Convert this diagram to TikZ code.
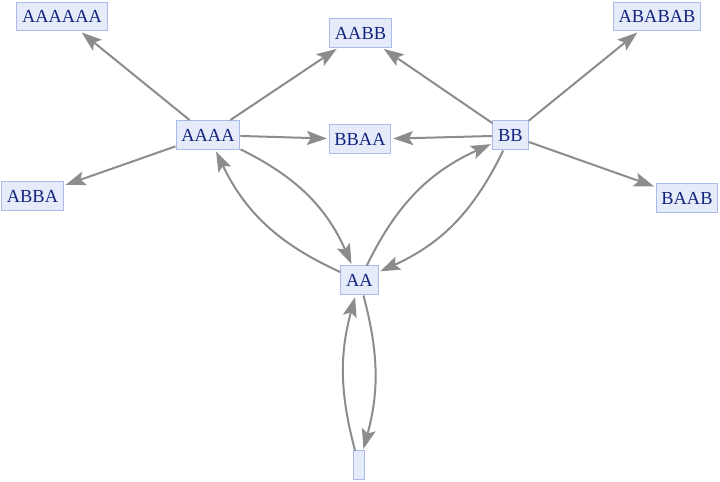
\documentclass[tikz,border=0pt]{standalone}
\usepackage{fontspec}
\setmainfont{Liberation Serif}
\definecolor{vertexfill}{RGB}{230, 235, 250}
\definecolor{vertexline}{RGB}{170, 187, 235}
\definecolor{vertextext}{RGB}{18, 36, 125}
\definecolor{edgegray}{RGB}{140, 140, 140}
\usetikzlibrary{arrows.meta}

\begin{document}
\begin{tikzpicture}[x=0.5pt, y=-0.5pt,
    vertex/.style={rectangle, draw=vertexline, fill=vertexfill, text=vertextext, line width=0.5pt,
        inner xsep=2.7pt, inner ysep=0pt, minimum height=14.5pt, font=\fontsize{9.2}{11}\selectfont},
    edge/.style={draw=edgegray, line width=1pt, shorten >=0.8pt,
        -{Stealth[length=10pt, width=7pt, inset=2pt]}}]
    \useasboundingbox (0,0) rectangle (720,482);
    \node[vertex] (AAAAAA) at (62,16.5) {AAAAAA};
    \node[vertex] (AABB) at (360.5,33) {AABB};
    \node[vertex] (ABABAB) at (657,16.5) {ABABAB};
    \node[vertex] (AAAA) at (208,135) {AAAA};
    \node[vertex] (BBAA) at (360,139.5) {BBAA};
    \node[vertex] (BB) at (510.5,135.5) {BB};
    \node[vertex] (ABBA) at (32.5,196.5) {ABBA};
    \node[vertex] (BAAB) at (687,198) {BAAB};
    \node[vertex] (AA) at (359.5,280.5) {AA};
    \node[vertex, minimum width=5pt] (E) at (359,465.5) {};
    % straight edges
    \draw[edge] (AAAA) -- (AAAAAA);
    \draw[edge] (AAAA) -- (AABB);
    \draw[edge] (AAAA) -- (BBAA);
    \draw[edge] (AAAA) -- (ABBA);
    \draw[edge] (BB) -- (AABB);
    \draw[edge] (BB) -- (BBAA);
    \draw[edge] (BB) -- (ABABAB);
    \draw[edge] (BB) -- (BAAB);
    % curved pairs
    \draw[edge] (AAAA) to[bend left=20] (AA);
    \draw[edge] (AA) to[bend left=20] (AAAA);
    \draw[edge] (BB) to[bend left=20] (AA);
    \draw[edge] (AA) to[bend left=20] (BB);
    \draw[edge] (AA) to[bend left=15] (E);
    \draw[edge] (E) to[bend left=15] (AA);
\end{tikzpicture}
\end{document}
